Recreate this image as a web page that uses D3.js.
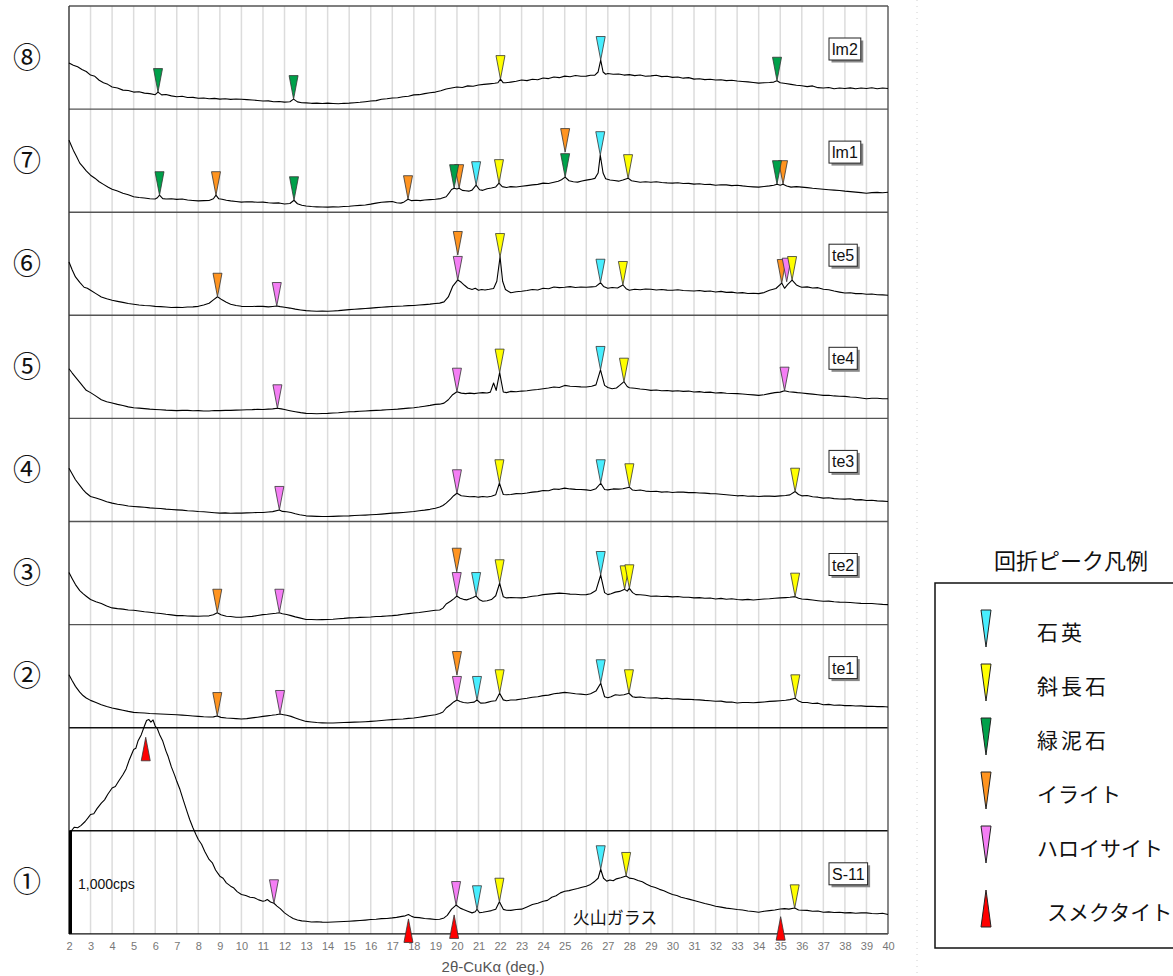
<!DOCTYPE html>
<html><head><meta charset="utf-8">
<script src="https://cdn.jsdelivr.net/npm/d3@7/dist/d3.min.js"></script>
<style>body{margin:0;background:#fff}</style>
</head><body>
<svg id="c" width="1173" height="976"></svg>
<script>
// ---------------- DATA ----------------
const tickValues = [2,3,4,5,6,7,8,9,10,11,12,13,14,15,16,17,18,19,20,21,22,23,24,25,26,27,28,29,30,31,32,33,34,35,36,37,38,39,40];
const xTitle = "2θ-CuKα (deg.)";
const panelNames = ["lm2","lm1","te5","te4","te3","te2","te1","S-11"];
const panelNumbers = ["⑧","⑦","⑥","⑤","④","③","②","①"];
const mineralKeys = ["qz","pl","chl","ill","hal","sme"];
const mineralNames = ["石英","斜長石","緑泥石","イライト","ハロイサイト","スメクタイト"];
const legendTitle = "回折ピーク凡例";
const scaleLabel = "1,000cps";
const glassLabel = "火山ガラス";

// intensity (cps above each panel's base line) vs 2θ
const lm2 = [[2,447],[2.2,425],[2.4,410],[2.6,385],[2.8,365],[3,330],[3.2,318],[3.4,280],[3.6,255],[3.8,240],[4,214],[4.25,205],[4.5,184],[4.75,180],[5,165],[5.25,168],[5.5,155],[5.75,150],[6,140],[6.13,165],[6.3,138],[6.5,142],[6.75,128],[7,120],[7.25,124],[7.5,112],[7.75,114],[8,105],[8.25,108],[8.5,100],[8.75,104],[9,97],[9.25,100],[9.5,94],[9.75,98],[10,95],[10.25,92],[10.5,88],[10.75,84],[11,78],[11.25,80],[11.5,72],[11.75,74],[12,68],[12.25,72],[12.42,97],[12.6,70],[12.8,62],[13,60],[13.25,56],[13.5,58],[13.75,54],[14,58],[14.25,55],[14.5,52],[14.75,56],[15,58],[15.25,62],[15.5,66],[15.75,72],[16,78],[16.25,82],[16.5,95],[16.75,100],[17,107],[17.25,110],[17.5,120],[17.75,125],[18,138],[18.25,140],[18.5,150],[18.75,158],[19,165],[19.25,178],[19.5,195],[19.75,205],[20,214],[20.25,210],[20.5,225],[20.75,222],[21,233],[21.25,240],[21.5,245],[21.75,250],[21.9,255],[22.02,291],[22.15,255],[22.25,255],[22.5,262],[22.75,270],[23,282],[23.25,276],[23.5,290],[23.75,285],[24,301],[24.25,296],[24.5,312],[24.75,305],[25,320],[25.25,314],[25.5,326],[25.75,318],[26,320],[26.2,328],[26.4,330],[26.55,360],[26.67,476],[26.78,360],[26.9,338],[27,345],[27.25,338],[27.5,340],[27.75,330],[28,334],[28.25,325],[28.5,330],[28.75,318],[29,322],[29.25,328],[29.5,315],[29.75,318],[30,308],[30.25,312],[30.5,300],[30.75,305],[31,291],[31.25,295],[31.5,286],[31.75,290],[32,282],[32.25,285],[32.5,276],[32.75,280],[33,272],[33.25,268],[33.5,264],[33.75,258],[34,252],[34.25,256],[34.5,258],[34.7,262],[34.85,275],[35,255],[35.25,248],[35.5,240],[35.75,232],[36,226],[36.25,218],[36.5,225],[36.75,208],[37,205],[37.25,210],[37.5,198],[37.75,205],[38,200],[38.25,206],[38.5,198],[38.75,205],[39,200],[39.25,207],[39.5,198],[39.75,204],[40,200]];
const lm1 = [[2,699],[2.1,650],[2.2,602],[2.35,540],[2.5,476],[2.65,440],[2.8,400],[3,359],[3.2,330],[3.4,295],[3.6,270],[3.8,245],[4,223],[4.25,205],[4.5,184],[4.75,170],[5,150],[5.25,142],[5.5,138],[5.75,130],[6,128],[6.1,140],[6.2,165],[6.35,132],[6.5,128],[6.75,130],[7,124],[7.25,128],[7.5,118],[7.75,114],[8,110],[8.25,112],[8.5,114],[8.7,130],[8.82,165],[8.95,130],[9.1,126],[9.3,116],[9.5,110],[9.75,104],[10,98],[10.25,102],[10.5,100],[10.75,96],[11,98],[11.25,92],[11.5,88],[11.75,90],[12,80],[12.25,84],[12.44,116],[12.6,82],[12.8,68],[13,60],[13.25,55],[13.5,52],[13.75,50],[14,49],[14.25,52],[14.5,50],[14.75,56],[15,58],[15.25,62],[15.5,66],[15.75,70],[16,78],[16.25,88],[16.5,97],[16.75,100],[17,104],[17.2,92],[17.4,88],[17.55,100],[17.73,126],[17.9,112],[18.1,116],[18.3,112],[18.5,118],[18.75,122],[19,126],[19.25,132],[19.5,150],[19.65,190],[19.75,220],[19.87,233],[20,225],[20.1,233],[20.25,212],[20.4,208],[20.55,204],[20.7,214],[20.89,262],[21.05,218],[21.2,212],[21.4,228],[21.6,235],[21.8,245],[21.95,282],[22.1,248],[22.3,240],[22.5,248],[22.75,245],[23,252],[23.25,258],[23.5,265],[23.75,270],[24,282],[24.25,278],[24.5,291],[24.7,300],[24.85,315],[25.02,340],[25.2,305],[25.4,296],[25.6,292],[25.8,302],[26,311],[26.2,318],[26.4,328],[26.55,380],[26.65,553],[26.78,380],[26.9,325],[27.1,312],[27.3,308],[27.5,301],[27.7,312],[27.94,330],[28.1,305],[28.3,298],[28.5,291],[28.75,296],[29,291],[29.25,295],[29.5,288],[29.75,284],[30,282],[30.25,285],[30.5,278],[30.75,280],[31,272],[31.25,276],[31.5,268],[31.75,270],[32,262],[32.25,266],[32.5,265],[32.75,258],[33,262],[33.25,255],[33.5,250],[33.75,246],[34,243],[34.25,250],[34.5,255],[34.7,262],[34.85,272],[35,262],[35.13,272],[35.3,255],[35.5,243],[35.75,248],[36,243],[36.25,238],[36.5,232],[36.75,228],[37,223],[37.25,218],[37.5,214],[37.75,210],[38,204],[38.25,200],[38.5,195],[38.75,190],[39,184],[39.25,190],[39.5,192],[39.75,188],[40,194]];
const te5 = [[2,517],[2.15,440],[2.3,372],[2.5,320],[2.7,272],[2.85,262],[3,243],[3.25,210],[3.5,178],[3.75,160],[4,146],[4.25,135],[4.5,125],[4.75,115],[5,107],[5.25,100],[5.5,95],[5.75,92],[6,87],[6.25,84],[6.5,80],[6.75,76],[7,78],[7.25,75],[7.5,80],[7.75,82],[8,87],[8.25,100],[8.5,117],[8.7,150],[8.89,180],[9.1,150],[9.3,126],[9.5,108],[9.75,95],[10,87],[10.25,86],[10.5,85],[10.75,88],[11,87],[11.25,82],[11.45,86],[11.64,90],[11.8,84],[12,78],[12.25,70],[12.5,60],[12.75,52],[13,45],[13.25,42],[13.5,40],[13.75,42],[14,39],[14.25,42],[14.5,45],[14.75,50],[15,55],[15.25,58],[15.5,62],[15.75,66],[16,70],[16.25,74],[16.5,78],[16.75,82],[17,85],[17.25,88],[17.5,90],[17.75,94],[18,95],[18.25,100],[18.5,104],[18.75,108],[19,114],[19.2,118],[19.4,130],[19.6,178],[19.8,280],[20.04,343],[20.2,320],[20.35,291],[20.5,265],[20.7,250],[20.85,262],[21,243],[21.15,250],[21.3,246],[21.5,252],[21.7,260],[21.85,330],[22.0,565],[22.12,330],[22.25,250],[22.5,218],[22.75,228],[23,233],[23.25,240],[23.5,250],[23.75,246],[24,262],[24.25,258],[24.5,275],[24.75,268],[25,272],[25.25,278],[25.5,270],[25.75,274],[26,272],[26.25,276],[26.45,280],[26.66,316],[26.8,280],[27,262],[27.2,270],[27.45,265],[27.7,294],[27.85,258],[28,243],[28.25,252],[28.5,248],[28.75,255],[29,252],[29.25,246],[29.5,250],[29.75,244],[30,243],[30.25,248],[30.5,240],[30.75,238],[31,236],[31.25,240],[31.5,232],[31.75,235],[32,226],[32.25,232],[32.5,222],[32.75,225],[33,216],[33.25,220],[33.5,212],[33.75,214],[34,210],[34.25,220],[34.5,243],[34.8,260],[35.07,313],[35.2,262],[35.35,300],[35.55,342],[35.75,295],[35.9,280],[36,272],[36.25,276],[36.5,265],[36.75,268],[37,252],[37.25,248],[37.5,235],[37.75,225],[38,216],[38.25,218],[38.5,210],[38.75,212],[39,204],[39.25,206],[39.5,200],[39.75,198],[40,194]];
const te4 = [[2,482],[2.15,440],[2.3,401],[2.5,350],[2.65,310],[2.8,272],[3,250],[3.2,223],[3.5,181],[3.75,162],[4,149],[4.25,136],[4.5,125],[4.75,112],[5,104],[5.25,100],[5.5,95],[5.75,90],[6,87],[6.25,84],[6.5,80],[6.75,78],[7,75],[7.25,78],[7.5,78],[7.75,74],[8,75],[8.25,72],[8.5,72],[8.75,76],[9,75],[9.25,78],[9.5,78],[9.75,80],[10,81],[10.25,84],[10.5,85],[10.75,88],[11,87],[11.25,90],[11.45,92],[11.67,98],[11.85,92],[12,86],[12.25,75],[12.5,65],[12.75,56],[13,49],[13.25,47],[13.5,45],[13.75,48],[14,49],[14.25,52],[14.5,55],[14.75,60],[15,65],[15.25,66],[15.5,70],[15.75,72],[16,75],[16.25,78],[16.5,80],[16.75,84],[17,87],[17.25,90],[17.5,95],[17.75,100],[18,104],[18.25,110],[18.5,118],[18.75,126],[19,136],[19.2,138],[19.4,148],[19.6,181],[19.8,230],[20.0,259],[20.2,245],[20.4,240],[20.6,245],[20.8,240],[21,246],[21.2,250],[21.4,246],[21.55,255],[21.7,343],[21.82,272],[21.98,444],[22.15,256],[22.3,250],[22.5,262],[22.75,258],[23,265],[23.25,268],[23.5,275],[23.75,280],[24,288],[24.25,295],[24.5,305],[24.75,300],[25,320],[25.25,312],[25.5,310],[25.75,306],[26,304],[26.25,312],[26.45,325],[26.66,470],[26.85,320],[27,300],[27.2,288],[27.4,295],[27.55,320],[27.75,356],[27.9,310],[28,298],[28.25,292],[28.5,285],[28.75,280],[29,272],[29.25,275],[29.5,268],[29.75,270],[30,265],[30.25,268],[30.5,262],[30.75,265],[31,256],[31.25,260],[31.5,252],[31.75,255],[32,246],[32.25,250],[32.5,244],[32.75,242],[33,240],[33.25,236],[33.5,232],[33.75,228],[34,223],[34.25,230],[34.5,240],[34.75,250],[35,255],[35.2,269],[35.4,258],[35.6,255],[35.8,250],[36,246],[36.25,240],[36.5,235],[36.75,230],[37,223],[37.25,225],[37.5,218],[37.75,215],[38,214],[38.25,208],[38.5,205],[38.75,198],[39,191],[39.25,195],[39.5,195],[39.75,190],[40,191]];
const te3 = [[2,517],[2.15,460],[2.3,405],[2.5,350],[2.65,310],[2.8,276],[3,243],[3.25,228],[3.5,210],[3.75,192],[4,178],[4.25,168],[4.5,160],[4.75,150],[5,146],[5.25,142],[5.5,138],[5.75,132],[6,129],[6.25,126],[6.5,120],[6.75,116],[7,113],[7.25,110],[7.5,105],[7.75,102],[8,97],[8.25,94],[8.5,90],[8.75,85],[9,81],[9.25,84],[9.5,80],[9.75,82],[10,81],[10.25,84],[10.5,85],[10.75,88],[11,87],[11.25,92],[11.45,96],[11.76,112],[11.9,98],[12.1,94],[12.3,87],[12.5,75],[12.7,65],[13,55],[13.25,52],[13.5,50],[13.75,48],[14,49],[14.25,50],[14.5,52],[14.75,54],[15,55],[15.25,58],[15.5,60],[15.75,62],[16,65],[16.25,68],[16.5,72],[16.75,76],[17,81],[17.25,84],[17.5,88],[17.75,92],[18,97],[18.25,104],[18.5,110],[18.75,118],[19,129],[19.2,140],[19.35,155],[19.5,178],[19.7,217],[19.85,250],[20.0,274],[20.2,250],[20.4,245],[20.6,240],[20.8,243],[21,236],[21.2,242],[21.4,238],[21.6,245],[21.8,260],[21.97,371],[22.15,262],[22.3,259],[22.5,262],[22.75,270],[23,269],[23.25,276],[23.5,285],[23.75,290],[24,301],[24.25,298],[24.5,315],[24.75,312],[25,324],[25.25,316],[25.5,312],[25.75,310],[26,307],[26.2,300],[26.45,318],[26.67,371],[26.85,310],[27,307],[27.25,316],[27.5,314],[27.7,318],[28.0,333],[28.15,305],[28.3,301],[28.5,306],[28.75,295],[29,291],[29.25,294],[29.5,285],[29.75,288],[30,282],[30.25,286],[30.5,285],[30.75,280],[31,282],[31.25,276],[31.5,275],[31.75,270],[32,269],[32.25,264],[32.5,260],[32.75,255],[33,249],[33.25,252],[33.5,245],[33.75,248],[34,243],[34.25,246],[34.5,246],[34.75,244],[35,249],[35.25,252],[35.45,258],[35.69,291],[35.85,262],[36,249],[36.25,252],[36.5,240],[36.75,236],[37,227],[37.25,230],[37.5,222],[37.75,218],[38,217],[38.25,220],[38.5,210],[38.75,212],[39,204],[39.25,206],[39.5,200],[39.75,198],[40,194]];
const te2 = [[2,505],[2.15,445],[2.3,388],[2.5,330],[2.65,300],[2.8,275],[3,243],[3.25,222],[3.5,204],[3.75,180],[4,162],[4.25,155],[4.5,150],[4.75,142],[5,139],[5.25,132],[5.5,125],[5.75,120],[6,113],[6.25,108],[6.5,100],[6.75,94],[7,87],[7.25,88],[7.5,84],[7.75,82],[8,81],[8.25,84],[8.5,85],[8.7,95],[8.88,115],[9.05,95],[9.3,81],[9.5,78],[9.75,72],[10,71],[10.25,76],[10.5,80],[10.75,88],[11,97],[11.2,100],[11.4,105],[11.6,110],[11.76,115],[11.9,106],[12.1,98],[12.3,87],[12.5,75],[12.7,65],[13,49],[13.25,50],[13.5,47],[13.75,48],[14,49],[14.25,52],[14.5,57],[14.75,60],[15,65],[15.25,66],[15.5,70],[15.75,72],[16,74],[16.25,78],[16.5,80],[16.75,84],[17,87],[17.25,92],[17.5,100],[17.75,106],[18,113],[18.25,118],[18.5,125],[18.75,132],[19,139],[19.2,142],[19.35,160],[19.5,200],[19.7,226],[19.85,250],[19.99,277],[20.15,255],[20.3,245],[20.45,240],[20.6,250],[20.75,262],[20.89,277],[21.05,240],[21.2,226],[21.4,232],[21.6,243],[21.8,280],[21.98,401],[22.15,270],[22.3,259],[22.5,262],[22.75,260],[23,259],[23.25,266],[23.5,275],[23.75,280],[24,291],[24.25,296],[24.5,300],[24.75,305],[25,301],[25.25,296],[25.5,295],[25.75,290],[26,291],[26.2,300],[26.45,330],[26.67,481],[26.85,310],[27,291],[27.15,300],[27.35,315],[27.55,322],[27.78,342],[27.9,325],[28.0,352],[28.15,310],[28.3,291],[28.5,290],[28.75,285],[29,275],[29.25,278],[29.5,272],[29.75,274],[30,269],[30.25,272],[30.5,265],[30.75,266],[31,259],[31.25,262],[31.5,255],[31.75,258],[32,249],[32.25,254],[32.5,246],[32.75,250],[33,243],[33.25,240],[33.5,245],[33.75,238],[34,243],[34.25,248],[34.5,250],[34.75,255],[35,259],[35.25,262],[35.45,265],[35.69,271],[35.85,255],[36,249],[36.25,245],[36.5,238],[36.75,232],[37,226],[37.25,228],[37.5,222],[37.75,218],[38,217],[38.25,214],[38.5,210],[38.75,206],[39,204],[39.25,205],[39.5,200],[39.75,196],[40,194]];
const te1 = [[2,514],[2.15,455],[2.3,401],[2.5,345],[2.65,312],[2.8,288],[3,265],[3.25,245],[3.5,223],[3.75,205],[4,191],[4.25,180],[4.5,170],[4.75,158],[5,149],[5.25,145],[5.5,142],[5.75,138],[6,136],[6.25,133],[6.5,130],[6.75,128],[7,126],[7.25,122],[7.5,118],[7.75,114],[8,110],[8.25,106],[8.5,104],[8.7,105],[8.88,113],[9.05,100],[9.3,94],[9.5,92],[9.75,88],[10,84],[10.25,88],[10.5,95],[10.75,102],[11,110],[11.2,115],[11.4,120],[11.6,126],[11.79,133],[11.95,126],[12.1,120],[12.3,110],[12.5,95],[12.7,80],[13,61],[13.25,55],[13.5,50],[13.75,47],[14,45],[14.25,46],[14.5,48],[14.75,50],[15,52],[15.25,54],[15.5,56],[15.75,58],[16,61],[16.25,65],[16.5,70],[16.75,74],[17,78],[17.25,82],[17.5,85],[17.75,90],[18,94],[18.25,102],[18.5,110],[18.75,118],[19,126],[19.2,138],[19.35,152],[19.5,191],[19.7,223],[19.85,250],[20.0,269],[20.15,255],[20.3,245],[20.5,240],[20.65,244],[20.8,248],[20.93,269],[21.1,238],[21.3,240],[21.45,248],[21.6,256],[21.8,262],[21.98,334],[22.15,270],[22.3,262],[22.5,268],[22.75,270],[23,278],[23.25,285],[23.5,295],[23.75,300],[24,311],[24.25,316],[24.5,330],[24.75,335],[25,343],[25.25,336],[25.5,330],[25.75,326],[26,320],[26.2,330],[26.45,355],[26.67,431],[26.85,300],[27,290],[27.15,300],[27.35,320],[27.55,315],[27.75,320],[27.98,334],[28.15,300],[28.3,294],[28.5,298],[28.75,290],[29,288],[29.25,290],[29.5,282],[29.75,285],[30,278],[30.25,280],[30.5,275],[30.75,276],[31,272],[31.25,270],[31.5,265],[31.75,262],[32,256],[32.25,258],[32.5,248],[32.75,250],[33,240],[33.25,244],[33.5,245],[33.75,242],[34,246],[34.25,250],[34.5,255],[34.75,258],[35,262],[35.25,266],[35.45,272],[35.7,285],[35.85,258],[36,246],[36.25,245],[36.5,235],[36.75,238],[37,223],[37.25,226],[37.5,218],[37.75,220],[38,214],[38.25,215],[38.5,210],[38.75,212],[39,207],[39.25,208],[39.5,204],[39.75,206],[40,201]];
const s11 = [[2.05,962],[2.15,1010],[2.25,1035],[2.4,1030],[2.55,1050],[2.75,1090],[2.9,1130],[3,1158],[3.15,1165],[3.3,1215],[3.5,1269],[3.65,1300],[3.8,1355],[4,1415],[4.15,1430],[4.3,1480],[4.5,1544],[4.65,1600],[4.8,1690],[5,1789],[5.1,1800],[5.2,1870],[5.35,1930],[5.5,2016],[5.6,2070],[5.7,2080],[5.8,2054],[5.9,2075],[6.0,2016],[6.1,1990],[6.2,1935],[6.35,1870],[6.5,1773],[6.6,1720],[6.75,1620],[6.9,1540],[7,1480],[7.15,1400],[7.3,1300],[7.5,1172],[7.6,1110],[7.75,1030],[7.9,960],[8,916],[8.15,870],[8.3,800],[8.5,722],[8.65,690],[8.8,620],[9,560],[9.15,540],[9.3,495],[9.5,463],[9.65,445],[9.8,410],[10,382],[10.2,372],[10.4,355],[10.6,350],[10.8,330],[11,317],[11.1,322],[11.2,333],[11.35,310],[11.51,297],[11.65,270],[11.8,245],[12,204],[12.2,175],[12.4,150],[12.6,135],[12.8,126],[13,123],[13.25,115],[13.5,118],[13.75,114],[14,113],[14.25,116],[14.5,118],[14.75,120],[15,123],[15.25,126],[15.5,130],[15.75,134],[16,139],[16.25,142],[16.5,148],[16.75,150],[17,155],[17.2,160],[17.45,170],[17.6,175],[17.75,188],[17.9,170],[18.05,160],[18.25,158],[18.5,150],[18.75,146],[19,139],[19.2,142],[19.4,155],[19.55,180],[19.75,240],[19.96,280],[20.15,250],[20.3,236],[20.5,220],[20.7,204],[20.85,215],[20.93,239],[21.05,205],[21.2,210],[21.4,218],[21.6,226],[21.8,240],[21.97,312],[22.15,238],[22.3,230],[22.5,228],[22.75,236],[23,240],[23.25,262],[23.5,285],[23.75,298],[24,317],[24.2,325],[24.4,355],[24.6,370],[24.8,398],[25,414],[25.2,420],[25.4,430],[25.6,440],[25.8,452],[26,463],[26.2,480],[26.4,511],[26.55,540],[26.67,627],[26.8,540],[26.95,512],[27.1,522],[27.25,515],[27.4,534],[27.6,545],[27.85,562],[28,541],[28.2,535],[28.4,518],[28.6,505],[28.8,482],[29,463],[29.2,450],[29.4,432],[29.6,418],[29.8,400],[30,382],[30.2,372],[30.4,356],[30.6,345],[30.8,335],[31,324],[31.25,310],[31.5,295],[31.75,282],[32,268],[32.25,260],[32.5,250],[32.75,244],[33,236],[33.25,232],[33.5,222],[33.75,218],[34,210],[34.25,220],[34.5,226],[34.75,232],[35,242],[35.2,245],[35.4,240],[35.67,252],[35.85,232],[36,230],[36.25,228],[36.5,220],[36.75,222],[37,210],[37.25,214],[37.5,208],[37.75,210],[38,204],[38.25,206],[38.5,200],[38.75,204],[39,204],[39.25,198],[39.5,196],[39.75,200],[40,188]];

// peak markers: [2θ, mineral, apex intensity (cps)]
const mk_lm2 = [[6.13,"chl",165],[12.42,"chl",97],[22.02,"pl",291],[26.67,"qz",476],[34.85,"chl",275]];
const mk_lm1 = [[6.2,"chl",165],[8.82,"ill",165],[12.44,"chl",116],[17.73,"ill",126],[20.1,"ill",233],[19.87,"chl",233],[20.89,"qz",262],[21.95,"pl",282],[25.02,"chl",340],[25.02,"ill",583],[26.65,"qz",553],[27.94,"pl",330],[35.13,"ill",272],[34.85,"chl",272]];
const mk_te5 = [[8.89,"ill",180],[11.64,"hal",90],[20.04,"hal",343],[20.04,"ill",585],[22.0,"pl",565],[26.66,"qz",316],[27.7,"pl",294],[35.07,"ill",313],[35.3,"hal",326],[35.55,"pl",342]];
const mk_te4 = [[11.67,"hal",98],[20.0,"hal",259],[21.98,"pl",444],[26.66,"qz",470],[27.75,"pl",356],[35.2,"hal",269]];
const mk_te3 = [[11.76,"hal",112],[20.0,"hal",274],[21.97,"pl",371],[26.67,"qz",371],[28.0,"pl",332],[35.69,"pl",289]];
const mk_te2 = [[8.88,"ill",115],[11.76,"hal",115],[19.99,"hal",277],[19.99,"ill",513],[20.89,"qz",277],[21.98,"pl",401],[26.67,"qz",481],[27.78,"pl",342],[28.0,"pl",352],[35.69,"pl",271]];
const mk_te1 = [[8.88,"ill",113],[11.79,"hal",133],[20.0,"hal",269],[20.0,"ill",511],[20.93,"qz",269],[21.98,"pl",334],[26.67,"qz",431],[27.98,"pl",334],[35.7,"pl",285]];
const mk_s11 = [[11.51,"hal",297],[19.96,"hal",280],[20.93,"qz",239],[21.97,"pl",312],[26.67,"qz",627],[27.85,"pl",562],[35.67,"pl",248],[5.56,"sme",1907],[17.75,"sme",145],[19.87,"sme",184],[35.02,"sme",167]];

const panelSeries = [lm2, lm1, te5, te4, te3, te2, te1, s11];
const panelMarkers = [mk_lm2, mk_lm1, mk_te5, mk_te4, mk_te3, mk_te2, mk_te1, mk_s11];

// ---------------- STYLE / LAYOUT ----------------
const fill = {qz:"#48eeff", pl:"#ffff00", chl:"#00a04a", ill:"#ff9420", hal:"#f47ef4", sme:"#ff0000"};
const LATIN = "'Liberation Sans', Arial, sans-serif";
const CJK = "'Noto Sans CJK JP', sans-serif";
const X0 = 69, X1 = 888, TOP = 6, ROWH = 103.1, NROWS = 9;
const BOTTOM = TOP + NROWS * ROWH;

const svg = d3.select("#c");
const x = d3.scaleLinear().domain([2, 40]).range([X0, X1]);

svg.append("line").attr("x1",917).attr("x2",917).attr("y1",0).attr("y2",976)
  .attr("stroke","#d0d0d0").attr("stroke-dasharray","1,5");

// vertical grid lines
svg.append("g").selectAll("line").data(tickValues.slice(1, -1)).join("line")
  .attr("x1", d => x(d)).attr("x2", d => x(d))
  .attr("y1", TOP).attr("y2", BOTTOM)
  .attr("stroke", "#dcdcdc").attr("stroke-width", 1.5);

// horizontal row lines
svg.append("g").selectAll("line").data(d3.range(NROWS + 1)).join("line")
  .attr("x1", X0).attr("x2", X1)
  .attr("y1", i => TOP + i * ROWH).attr("y2", i => TOP + i * ROWH)
  .attr("stroke", i => (i >= 7 ? "#111" : "#555")).attr("stroke-width", 1.4);
svg.append("line").attr("x1", X0).attr("x2", X0).attr("y1", TOP).attr("y2", BOTTOM).attr("stroke", "#333").attr("stroke-width", 1.4);
svg.append("line").attr("x1", X1).attr("x2", X1).attr("y1", TOP).attr("y2", BOTTOM).attr("stroke", "#555").attr("stroke-width", 1.4);

// x-axis
const xAxis = d3.axisBottom(x).tickValues(tickValues).tickSize(0).tickPadding(8).tickFormat(d3.format("d"));
const ax = svg.append("g").attr("transform", `translate(0,${BOTTOM})`).call(xAxis);
ax.select(".domain").remove();
ax.selectAll("text").attr("font-family", LATIN).attr("font-size", 11).attr("fill", "#777");
svg.append("text").attr("x", 493).attr("y", 972).attr("text-anchor","middle")
  .attr("font-family", LATIN).attr("font-size", 15).attr("fill", "#555").text(xTitle);

const line = d3.line().x(d => x(d[0]));

function tri(cx, apexY, up, w, h) {
  return up
    ? `M${cx},${apexY}L${cx + w/2},${apexY + h}L${cx - w/2},${apexY + h}Z`
    : `M${cx - w/2},${apexY - h}L${cx + w/2},${apexY - h}L${cx},${apexY}Z`;
}

panelSeries.forEach((series, i) => {
  const rowTop = i < 7 ? TOP + i * ROWH : TOP + 8 * ROWH;
  const base = i < 7 ? TOP + (i + 1) * ROWH : BOTTOM;
  const y = d3.scaleLinear().domain([0, 1000]).range([base, base - ROWH]);
  const g = svg.append("g");

  g.append("path").datum(series).attr("d", line.y(d => y(d[1])))
    .attr("fill", "none").attr("stroke", "#000").attr("stroke-width", 1.1).attr("stroke-linejoin","round");

  g.selectAll("path.mk").data(panelMarkers[i]).join("path").attr("class","mk")
    .attr("d", d => tri(x(d[0]), y(d[2]), d[1] === "sme", 9, 23.5))
    .attr("fill", d => fill[d[1]]).attr("stroke", "#333").attr("stroke-width", 0.8);

  const cy = i < 7 ? TOP + (i + 0.5) * ROWH : rowTop + ROWH / 2;
  svg.append("text").attr("x", 27).attr("y", cy).attr("dy", "0.36em").attr("text-anchor","middle")
    .attr("font-family", CJK).attr("font-size", 28).attr("fill", "#111").text(panelNumbers[i]);

  const lg = svg.append("g").attr("transform", `translate(829,${rowTop + 32})`);
  const t = lg.append("text").attr("x", 3).attr("y", 17).attr("font-family", LATIN).attr("font-size", 16).attr("fill","#111").text(panelNames[i]);
  const tw = t.node().getComputedTextLength();
  lg.insert("rect", "text").attr("x", 2.5).attr("y", 2.5).attr("width", tw + 6).attr("height", 22).attr("fill", "#888");
  lg.insert("rect", "text").attr("x", 0).attr("y", 0).attr("width", tw + 6).attr("height", 22).attr("fill", "#fff").attr("stroke", "#222").attr("stroke-width", 1);

  if (i === 7) {
    svg.append("rect").attr("x", X0).attr("y", y(1000)).attr("width", 3).attr("height", y(0) - y(1000)).attr("fill", "#000");
    svg.append("text").attr("x", 78).attr("y", 884).attr("dy","0.35em").attr("font-family", LATIN).attr("font-size", 14).attr("fill","#111").text(scaleLabel);
    svg.append("text").attr("x", 615).attr("y", 918).attr("dy","0.35em").attr("text-anchor","middle").attr("font-family", CJK).attr("font-size", 17).attr("fill","#111").text(glassLabel);
  }
});

// legend
svg.append("text").attr("x", 1071).attr("y", 561).attr("dy","0.36em").attr("text-anchor","middle")
  .attr("font-family", CJK).attr("font-size", 22).attr("fill","#111").text(legendTitle);
svg.append("rect").attr("x", 935).attr("y", 583).attr("width", 260).attr("height", 365)
  .attr("fill","none").attr("stroke","#111").attr("stroke-width", 1.5);
const legG = svg.append("g");
mineralKeys.forEach((k, j) => {
  const up = k === "sme";
  const topY = 610 + j * 54 + (up ? 10 : 0);
  legG.append("path").attr("d", up ? tri(986, topY, true, 10, 37) : tri(986, topY + 37, false, 10, 37))
    .attr("fill", fill[k]).attr("stroke", "#222").attr("stroke-width", 1);
  legG.append("text").attr("x", up ? 1047 : 1037).attr("y", topY + 22).attr("dy","0.36em")
    .attr("font-family", CJK).attr("font-size", 21).attr("fill","#111").attr("letter-spacing", j < 3 ? 3 : 0).text(mineralNames[j]);
});
</script>
</body></html>
